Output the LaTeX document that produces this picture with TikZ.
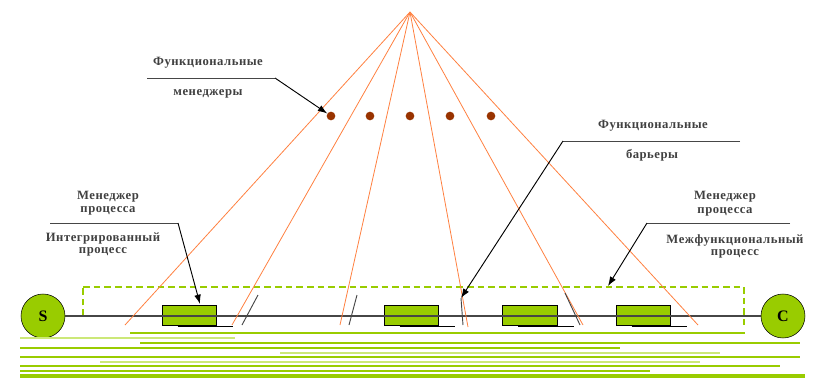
\documentclass[tikz,border=0pt]{standalone}
\usepackage{fontspec}
\setmainfont{Liberation Serif}
\usetikzlibrary{arrows.meta}
\definecolor{leaf}{RGB}{153,204,0}
\definecolor{pale}{RGB}{204,232,120}
\definecolor{ray}{RGB}{255,128,64}
\definecolor{dotc}{RGB}{153,51,0}
\definecolor{wire}{RGB}{70,70,70}
\begin{document}
\begin{tikzpicture}[x=0.75pt,y=-0.75pt,>={Latex[length=7pt,width=5pt]}]
\tikzstyle{Dot} = [fill=dotc, shape=circle, minimum size=6.5, inner sep=0]
\tikzstyle{Box} = [draw, fill=leaf, minimum width=41, minimum height=15.5, inner sep=0, line width=0.8]
\tikzstyle{End} = [draw, fill=leaf, shape=circle, minimum size=33, inner sep=0, font={\large\bfseries}]
\tikzstyle{Label} = [font={\fontsize{9.5}{11}\selectfont\bfseries\addfontfeature{LetterSpace=4}}, text=black!75, inner sep=0]
\tikzstyle{inv} = [outer sep=0,inner sep=0,minimum size=0]
\tikzstyle{Ray} = [draw=ray, line width=0.6]
\useasboundingbox (0,0) rectangle (819,379);
% apex and ends of the rays
\node [inv] (v0) at (410,12) {};
\node [inv] (b1) at (125,325) {};
\node [inv] (b2) at (232,325) {};
\node [inv] (b3) at (340,325) {};
\node [inv] (b4) at (468,327) {};
\node [inv] (b5) at (583,325) {};
\node [inv] (b6) at (698,325) {};
% functional managers
\node [Dot] (d1) at (331,116) {};
\node [Dot] (d2) at (370,116) {};
\node [Dot] (d3) at (410,116) {};
\node [Dot] (d4) at (450,116) {};
\node [Dot] (d5) at (491,116) {};
% process
\node [End] (s) at (43,316) {S};
\node [End] (c) at (783,316) {C};
\node [Box] (p1) at (189.5,315.5) {};
\node [Box] (p2) at (411.5,315.5) {};
\node [Box] (p3) at (530,315.5) {};
\node [Box] (p4) at (643.5,315.5) {};
% dashed frame
\node [inv] (f1) at (83,316) {};
\node [inv] (f2) at (83,287) {};
\node [inv] (f3) at (744,287) {};
\node [inv] (f4) at (744,325) {};
% barriers
\node [inv] (g1) at (258,295) {};
\node [inv] (h1) at (242,325) {};
\node [inv] (g2) at (357,295) {};
\node [inv] (h2) at (349,325) {};
\node [inv] (g3) at (461,298) {};
\node [inv] (h3) at (463,325) {};
\node [inv] (g4) at (565,293) {};
\node [inv] (h4) at (580,325) {};
% labels
\node [Label] (t1) at (208,63) {Функциональные};
\node [Label] (t2) at (208,94) {менеджеры};
\node [inv] (l1) at (147,78) {};
\node [inv] (l2) at (275,78) {};
\node [Label] (t3) at (653,126) {Функциональные};
\node [Label] (t4) at (652,155) {барьеры};
\node [inv] (l3) at (563,141) {};
\node [inv] (l4) at (740,141) {};
\node [Label] (t5) at (108,197) {Менеджер};
\node [Label] (t6) at (108,211) {процесса};
\node [Label] (t7) at (103,238) {Интегрированный};
\node [Label] (t8) at (103,252) {процесс};
\node [inv] (l5) at (50,223) {};
\node [inv] (l6) at (178,223) {};
\node [inv] (a1) at (200,304) {};
\node [Label] (t9) at (725,197) {Менеджер};
\node [Label] (t10) at (725,212) {процесса};
\node [Label] (t11) at (735,240) {Межфункциональный};
\node [Label] (t12) at (735,254) {процесс};
\node [inv] (l7) at (647,223) {};
\node [inv] (l8) at (790,223) {};
\node [inv] (a2) at (608,286) {};
\draw [leaf, line width=0.8, dash pattern=on 5 off 3] (f1) -- (f2) -- (f3) -- (f4);
\draw [wire, line width=0.8] (s) -- (c);
\foreach \i in {1,...,6} \draw [Ray] (v0) -- (b\i);
\foreach \i in {1,...,4} \draw [wire, line width=0.7] (g\i) -- (h\i);
\foreach \i in {1,...,4} \draw [line width=1.2] ([xshift=12]p\i.south west) -- ([xshift=12]p\i.south east);
\draw [wire, line width=0.7] (l1) -- (l2);
\draw [->, line width=0.7] (l2) -- (d1);
\draw [wire, line width=0.7] (l4) -- (l3);
\draw [->, line width=0.7] (l3) -- (g3);
\draw [wire, line width=0.7] (l5) -- (l6);
\draw [->, line width=0.7] (l6) -- (a1);
\draw [wire, line width=0.7] (l8) -- (l7);
\draw [->, line width=0.7] (l7) -- (a2);
% smeared bands at the bottom
\foreach \y/\a/\b/\c/\w in {333/130/745/leaf/1.6, 338/20/235/pale/1.2, 343/140/800/leaf/1.6,
  348/20/620/leaf/2, 353/280/720/pale/1.2, 357/20/800/leaf/1.6, 362/100/700/pale/1.2,
  366/20/780/leaf/1.6, 371/20/650/leaf/1.6, 376/20/805/leaf/2.4}
  \draw [\c, line width=\w] (\a,\y) -- (\b,\y);
\end{tikzpicture}
\end{document}
